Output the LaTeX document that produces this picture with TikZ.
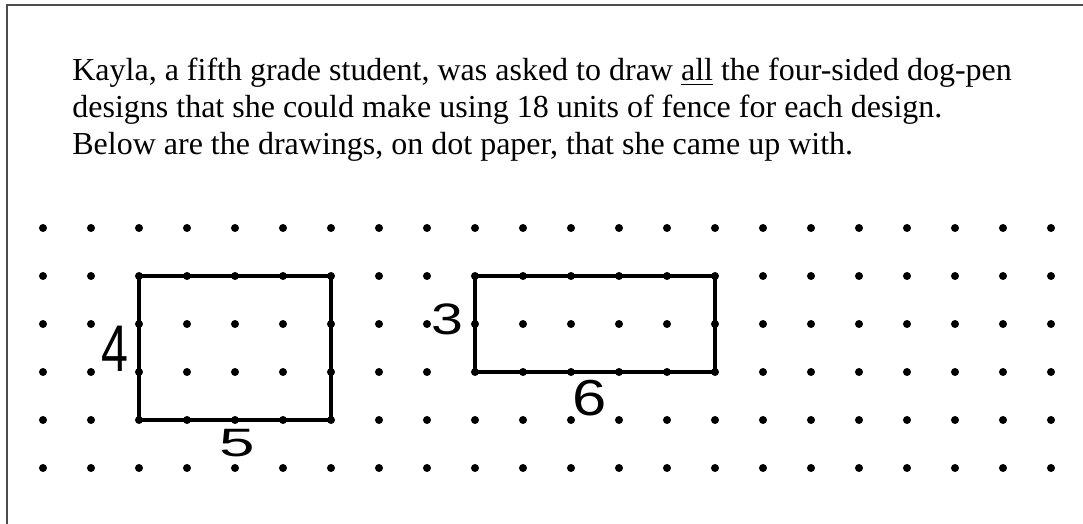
\documentclass[tikz,border=0pt]{standalone}
\usepackage{fontspec}
\setmainfont{Liberation Serif}
\newfontfamily\penfont{Liberation Sans}
\usepackage{tikz}

\begin{document}
\begin{tikzpicture}[
    x=24pt, y=24pt,
    dotmark/.style={fill=black},
    penline/.style={draw=black, line width=1.8pt, line join=miter},
    framebox/.style={draw=black!70, line width=1pt},
    prompt/.style={anchor=base west, inner sep=0pt, font=\fontsize{16}{18.5}\selectfont},
    sidelabel/.style={inner sep=0pt, font=\penfont\fontsize{22}{22}\selectfont},
]
    \useasboundingbox (-0.8958,-1.1667) rectangle (21.6667,9.75);

    % frame (only its top and left edges show)
    \draw[framebox] (-0.75,-2) -- (-0.75,9.6458) -- (23,9.6458);

    % question text
    \node[prompt] (line1) at (0.604,8.0625) {Kayla, a fifth grade student, was asked to draw \underline{all} the four-sided dog-pen};
    \node[prompt] (line2) at (0.604,7.2917) {designs that she could make using 18 units of fence for each design.};
    \node[prompt] (line3) at (0.604,6.5208) {Below are the drawings, on dot paper, that she came up with.};

    % dot paper
    \foreach \i in {0,...,21}
        \foreach \j in {0,...,5}
            \fill[dotmark] (\i,\j) circle (2pt);

    % the two pens
    \draw[penline] (2,1) rectangle (6,4);
    \draw[penline] (9,2) rectangle (14,4);

    % side lengths
    \node[sidelabel, xscale=1.1, yscale=1.5] (four) at (1.5,2.479) {4};
    \node[sidelabel, xscale=1.45, yscale=0.9] (five) at (4.042,0.521) {5};
    \node[sidelabel, xscale=1.3] (three) at (8.417,3.104) {3};
    \node[sidelabel, xscale=1.4, yscale=1.15] (six) at (11.396,1.458) {6};

\end{tikzpicture}
\end{document}
